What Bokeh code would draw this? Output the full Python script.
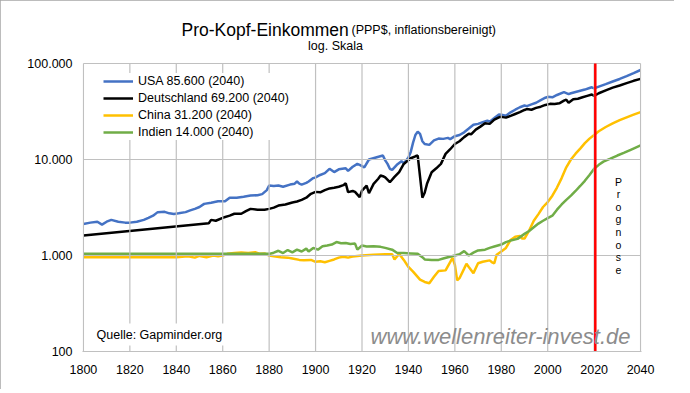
from bokeh.plotting import figure
from bokeh.models import Label, FixedTicker, Legend, LegendItem, Range1d
from bokeh.embed import file_html
from bokeh.resources import INLINE

# ---------------- data ----------------
usa_years = [1800, 1803, 1806, 1808, 1810, 1812, 1815, 1818, 1820, 1823, 1826, 1828, 1830, 1832, 1835, 1837,
             1839, 1841, 1844, 1846, 1848, 1850, 1852, 1855, 1858, 1861, 1863, 1866, 1869, 1872, 1875, 1877,
             1879, 1880, 1882, 1884, 1886, 1889, 1891, 1892, 1893, 1894, 1896, 1897, 1899, 1900, 1902, 1904,
             1906, 1908, 1910, 1913, 1914, 1916, 1918, 1919, 1921, 1923, 1926, 1929, 1930, 1931, 1932, 1933,
             1935, 1937, 1938, 1940, 1941, 1942, 1943, 1944, 1945, 1946, 1947, 1949, 1951, 1953, 1955, 1957,
             1958, 1960, 1962, 1964, 1966, 1968, 1970, 1972, 1974, 1975, 1977, 1979, 1980, 1982, 1984, 1986,
             1988, 1990, 1991, 1993, 1995, 1997, 1999, 2000, 2002, 2004, 2007, 2009, 2010, 2012, 2014, 2016,
             2018, 2019, 2020, 2022, 2025, 2028, 2031, 2034, 2037, 2040]
usa_vals = [2130, 2200, 2250, 2100, 2250, 2350, 2250, 2200, 2200, 2250, 2350, 2470, 2600, 2830, 2850, 2750,
            2700, 2750, 2830, 2950, 3060, 3200, 3450, 3550, 3670, 3670, 4000, 4000, 4100, 4210, 4250, 4360,
            4800, 5350, 5300, 5350, 5200, 5480, 5600, 5900, 5600, 5480, 5700, 5900, 6400, 6500, 6900, 7200,
            8000, 7400, 7900, 8100, 7600, 8400, 9000, 8800, 8300, 10000, 10500, 11000, 9800, 9000, 8000, 7800,
            8800, 9600, 9100, 10500, 12000, 15000, 18000, 19500, 18500, 15500, 14500, 14200, 15800, 16500, 16400, 16800,
            16300, 17500, 18000, 19200, 21000, 23000, 23500, 24500, 25400, 24800, 27000, 29500, 29300, 28500, 31000, 33000,
            35000, 36500, 36000, 37500, 39000, 41500, 44000, 45000, 44500, 47000, 50300, 48000, 49000, 50500, 52000, 53500,
            55500, 56500, 55000, 57500, 61000, 65000, 69000, 74000, 79500, 85600]

ger_years = [1800, 1854, 1855, 1857, 1860, 1863, 1865, 1868, 1870, 1872, 1875, 1878, 1880, 1882, 1884, 1887,
             1890, 1892, 1894, 1896, 1898, 1900, 1902, 1904, 1906, 1908, 1910, 1912, 1913, 1914, 1916, 1917,
             1919, 1920, 1922, 1923, 1925, 1927, 1928, 1929, 1930, 1932, 1934, 1936, 1938, 1939, 1941, 1943,
             1944, 1946, 1947, 1948, 1950, 1952, 1954, 1956, 1958, 1960, 1962, 1964, 1966, 1967, 1969, 1971,
             1973, 1975, 1977, 1979, 1980, 1982, 1984, 1986, 1988, 1990, 1991, 1993, 1995, 1997, 1999, 2001,
             2003, 2005, 2007, 2008, 2009, 2011, 2013, 2015, 2017, 2019, 2020, 2022, 2025, 2028, 2031, 2034,
             2037, 2040]
ger_vals = [1620, 2170, 2350, 2300, 2470, 2600, 2720, 2720, 2900, 3060, 3000, 3000, 3060, 3150, 3310, 3400,
            3570, 3650, 3800, 4000, 4390, 4600, 4550, 4800, 5000, 5080, 5200, 5400, 5660, 4570, 4700, 4600,
            4050, 4750, 5350, 4450, 5580, 6300, 6800, 6700, 6500, 5800, 6600, 7400, 9000, 9400, 10300, 10800,
            11000, 4000, 4500, 5580, 7370, 8100, 9000, 11450, 12800, 14500, 15500, 17100, 18500, 18300, 20500, 22000,
            23800, 23500, 26000, 27500, 27800, 27300, 28500, 29800, 31100, 32800, 33500, 33000, 34500, 35500, 37000, 38000,
            37800, 38500, 41000, 42000, 39000, 42500, 43000, 44500, 46000, 47500, 46000, 49000, 52500, 56000, 59000, 62500,
            66000, 69200]

chn_years = [1800, 1840, 1845, 1848, 1850, 1853, 1856, 1858, 1860, 1862, 1865, 1868, 1871, 1874, 1876, 1878,
             1880, 1882, 1885, 1888, 1890, 1893, 1895, 1898, 1900, 1902, 1904, 1906, 1908, 1910, 1912, 1914,
             1916, 1918, 1920, 1925, 1930, 1933, 1934, 1936, 1938, 1940, 1942, 1945, 1947, 1949, 1951, 1953,
             1956, 1959, 1960, 1961, 1962, 1964, 1965, 1966, 1968, 1970, 1972, 1975, 1976, 1977, 1978, 1980,
             1982, 1984, 1986, 1988, 1989, 1990, 1992, 1994, 1996, 1998, 2000, 2002, 2004, 2006, 2008, 2010,
             2012, 2014, 2016, 2018, 2020, 2022, 2025, 2028, 2031, 2034, 2037, 2040]
chn_vals = [960, 960, 980, 950, 990, 960, 1000, 980, 1000, 1040, 1060, 1075, 1060, 1080, 1040, 1050,
            1000, 980, 960, 950, 930, 900, 890, 900, 860, 870, 850, 880, 910, 950, 970, 950,
            975, 990, 1000, 1020, 1030, 1030, 910, 1040, 900, 760, 680, 560, 530, 515, 600, 690,
            700, 945, 800, 550, 580, 730, 820, 760, 655, 830, 860, 890, 850, 830, 1020, 1100,
            1200, 1450, 1570, 1600, 1500, 1500, 1820, 2300, 2700, 3200, 3600, 4200, 5100, 6400, 8300, 10000,
            11500, 13000, 14800, 16500, 18000, 19700, 21800, 23800, 25700, 27500, 29300, 31200]

ind_years = [1800, 1880, 1882, 1884, 1886, 1888, 1890, 1892, 1894, 1896, 1897, 1899, 1901, 1903, 1905, 1907,
             1909, 1911, 1913, 1915, 1917, 1918, 1920, 1922, 1925, 1928, 1930, 1933, 1935, 1938, 1941, 1944,
             1946, 1947, 1950, 1953, 1955, 1957, 1960, 1962, 1964, 1966, 1968, 1970, 1973, 1975, 1977, 1980,
             1982, 1984, 1987, 1990, 1992, 1994, 1996, 1998, 2000, 2002, 2004, 2006, 2008, 2010, 2012, 2014,
             2016, 2018, 2020, 2022, 2024, 2027, 2030, 2033, 2036, 2040]
ind_vals = [1040, 1040, 1070, 1120, 1060, 1140, 1080, 1150, 1100, 1180, 1100, 1200, 1150, 1250, 1270, 1300,
            1380, 1340, 1350, 1320, 1330, 1150, 1270, 1240, 1250, 1230, 1200, 1150, 1070, 1060, 1050, 1040,
            960, 910, 900, 900, 930, 960, 1000, 1030, 1110, 1000, 1070, 1130, 1150, 1200, 1240, 1300,
            1380, 1430, 1490, 1680, 1800, 1970, 2150, 2300, 2450, 2600, 3000, 3400, 3800, 4200, 4700, 5300,
            6000, 6900, 8000, 8800, 9500, 10200, 11000, 11800, 12700, 14000]

legend_labels = ["USA 85.600 (2040)", "Deutschland 69.200 (2040)", "China 31.200 (2040)", "Indien 14.000 (2040)"]
series_colors = ["#4472C4", "#000000", "#FFC000", "#70AD47"]

x_ticks = [1800, 1820, 1840, 1860, 1880, 1900, 1920, 1940, 1960, 1980, 2000, 2020, 2040]
y_ticks = [100, 1000, 10000, 100000]
y_tick_labels = ["100", "1.000", "10.000", "100.000"]
forecast_start = 2020.5

FONT = "Liberation Sans"
GRID = "#c0c0c0"
GRID_W = 1.2

# layout: the plot frame is extended upward so that the title lives inside it
DECADE_PX = 96.0        # pixels per decade on the log axis
TITLE_BAND_PX = 58.0    # frame area above the 100.000 line
y_top = y_ticks[-1] * 10 ** (TITLE_BAND_PX / DECADE_PX)
x_pad = 0.4             # keeps the edge grid lines from being half clipped

p = figure(width=674, height=389, title=None,
           x_range=Range1d(x_ticks[0] - x_pad, x_ticks[-1] + x_pad),
           y_range=Range1d(y_ticks[0], y_top),
           y_axis_type="log", output_backend="svg", toolbar_location=None,
           min_border_left=82, min_border_right=33, min_border_top=5, min_border_bottom=38)
p.stylesheets = [":host { outline: 1px solid #a6a6a6; outline-offset: -1px; }"]
p.outline_line_color = None
p.grid.visible = False

p.xaxis.ticker = FixedTicker(ticks=x_ticks)
p.yaxis.ticker = FixedTicker(ticks=y_ticks)
p.yaxis.major_label_overrides = dict(zip(y_ticks, y_tick_labels))
for ax in (p.xaxis, p.yaxis):
    ax.major_tick_line_color = None
    ax.minor_tick_line_color = None
    ax.major_tick_out = 0
    ax.major_tick_in = 0
    ax.major_label_text_font = FONT
    ax.major_label_text_font_size = "12.5px"
    ax.major_label_text_color = "black"
p.xaxis.axis_line_color = GRID
p.xaxis.axis_line_width = GRID_W
p.yaxis.axis_line_color = None
p.yaxis.major_label_standoff = 10
p.xaxis.major_label_standoff = 13

series = [(usa_years, usa_vals), (ger_years, ger_vals), (chn_years, chn_vals), (ind_years, ind_vals)]
items = []
for (xs, ys), col, lab in zip(series, series_colors, legend_labels):
    r = p.line(xs, ys, line_color=col, line_width=2.5)
    items.append(LegendItem(label=lab, renderers=[r]))

# grid lines drawn from the tick arrays (as multi-lines)
grid_xs = [[t, t] for t in x_ticks] + [[x_ticks[0], x_ticks[-1]] for _ in y_ticks]
grid_ys = [[y_ticks[0], y_ticks[-1]] for _ in x_ticks] + [[t, t] for t in y_ticks]
p.multi_line(xs=grid_xs, ys=grid_ys, line_color=GRID, line_width=GRID_W)

# forecast marker
p.segment(x0=[forecast_start], y0=[y_ticks[0]], x1=[forecast_start], y1=[y_ticks[-1]],
          line_color="#FF0000", line_width=2.5)

legend = Legend(items=items, location=(21, 211), margin=0, padding=2, spacing=1,
                glyph_width=30, glyph_height=16, label_height=16, label_standoff=5,
                label_text_font=FONT, label_text_font_size="12.5px", label_text_color="black",
                border_line_color=None, background_fill_color="white", background_fill_alpha=1.0)
p.add_layout(legend)

# titles (screen units relative to the frame's bottom-left)
p.add_layout(Label(x=99, y=322, x_units="screen", y_units="screen", text="Pro-Kopf-Einkommen",
                   text_font=FONT, text_font_size="17.5px", text_color="black", text_baseline="alphabetic"))
p.add_layout(Label(x=269, y=322, x_units="screen", y_units="screen", text="(PPP$, inflationsbereinigt)",
                   text_font=FONT, text_font_size="12.5px", text_color="black", text_baseline="alphabetic"))
p.add_layout(Label(x=253, y=306, x_units="screen", y_units="screen", text="log. Skala",
                   text_font=FONT, text_font_size="12.5px", text_color="black", text_baseline="alphabetic",
                   text_align="center"))

p.add_layout(Label(x=10, y=17, x_units="screen", y_units="screen", text="Quelle: Gapminder.org",
                   text_font=FONT, text_font_size="12.5px", text_color="black", text_baseline="middle",
                   background_fill_color="white", padding=4))
p.add_layout(Label(x=288, y=15, x_units="screen", y_units="screen", text="www.wellenreiter-invest.de",
                   text_font=FONT, text_font_size="22px", text_font_style="italic", text_color="#8c8c8c",
                   text_baseline="middle"))
p.add_layout(Label(x=536, y=176, x_units="screen", y_units="screen", text="P\nr\no\ng\nn\no\ns\ne",
                   text_font=FONT, text_font_size="10.5px", text_color="black", text_baseline="top",
                   text_align="center", text_line_height=1.05))

open("out.html", "w").write(file_html(p, INLINE))
